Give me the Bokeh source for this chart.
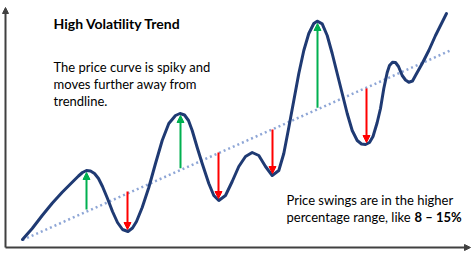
from bokeh.plotting import figure
from bokeh.models import Range1d, Arrow, NormalHead, Label
from bokeh.embed import file_html
from bokeh.resources import INLINE

# ---- data (time, price) ----
curve_x = [22, 31.7, 41.7, 51.7, 61.7, 71.7, 78, 82, 86, 90, 94, 98, 102, 107, 112, 117, 122, 127.5,
           132, 136, 141.7, 148.3, 155, 161.7, 168.3, 175, 179.5, 184, 188, 191.7, 196.7, 201.7, 208.3,
           213.3, 218.3, 225, 231.7, 238.3, 245, 251.7, 258.3, 265, 271.7, 278.3, 283.3, 288.3, 293.3,
           298.3, 303.3, 308.3, 313.3, 316.7, 321.7, 326.7, 331.7, 336.7, 341.7, 346.7, 351.7, 356.7,
           361, 365, 369, 372.5, 376.7, 380, 383.3, 386.7, 389, 392, 395, 398, 401.7, 405, 408.3, 412,
           415, 421.7, 428.3, 435, 440, 446]
curve_y = [14, 25, 38, 50.3, 61.3, 71.3, 77.5, 81, 83, 82.5, 80, 75, 67, 55, 42, 31, 24, 22,
           25.5, 32, 46, 66, 90, 113, 130, 138, 140, 138.5, 133, 123, 106, 90, 70,
           58, 53, 58, 72, 87, 97, 101, 98, 87, 78, 83, 100, 126, 153,
           180, 203, 220, 230, 232.3, 229.7, 218, 200, 180, 160, 140, 123, 113,
           109.5, 109, 111, 117, 131, 145, 165, 181, 188, 191.3, 191, 187, 178, 173.5, 171.3, 172.5,
           178, 190, 203, 218, 228, 240]

trend_x = [22, 451]
trend_y = [13.5, 203.5]

swing_x = [86, 127, 180, 218, 272, 317, 366]
swing_base = [44, 62, 85.3, 101, 124, 145.7, 165]
swing_tip = [81, 24, 138, 55, 80, 230, 111]
swing_dir = ["up", "down", "up", "down", "down", "up", "down"]

title_text = "High Volatility Trend"
note_lines = ["The price curve is spiky and", "moves further away from", "trendline."]
swing_lines = ["Price swings are in the higher", "percentage range, like "]
swing_bold = "8 \u2013 15%"

W, H = 474, 253
FONT = "Lato"
NAVY = "#1F3A73"
GREEN = "#00B050"
RED = "#FF0000"
AXIS = "#404040"

p = figure(width=W, height=H, output_backend="svg", toolbar_location=None,
           x_range=Range1d(0, W), y_range=Range1d(0, H),
           x_axis_location=None, y_axis_location=None, min_border=0)
p.grid.visible = False
p.outline_line_color = None
p.background_fill_color = "white"
p.border_fill_color = "white"

# axes drawn as arrows
p.add_layout(Arrow(x_start=5, y_start=6, x_end=5, y_end=246, line_color=AXIS, line_width=2,
                   end=NormalHead(size=6, fill_color=AXIS, line_color=AXIS)))
p.add_layout(Arrow(x_start=5, y_start=6, x_end=470, y_end=6, line_color=AXIS, line_width=2,
                   end=NormalHead(size=6, fill_color=AXIS, line_color=AXIS)))

# trendline
p.line(trend_x, trend_y, line_color="#8EA6D6", line_width=2.5, line_dash="2 3")

# swing arrows
for x, b, t, d in zip(swing_x, swing_base, swing_tip, swing_dir):
    c = GREEN if d == "up" else RED
    p.add_layout(Arrow(x_start=x, y_start=b, x_end=x, y_end=t, line_color=c, line_width=2,
                       end=NormalHead(size=7, fill_color=c, line_color=c)))

# price curve
p.line(curve_x, curve_y, line_color=NAVY, line_width=3, line_join="round", line_cap="round")

# texts
p.add_layout(Label(x=53, y=230.3, text=title_text, text_font=FONT, text_font_size="14px",
                   text_font_style="bold", text_color="black", text_baseline="alphabetic"))
for i, t in enumerate(note_lines):
    p.add_layout(Label(x=53, y=186.3 - 16.7 * i, text=t, text_font=FONT, text_font_size="13px",
                       text_color="black", text_baseline="alphabetic"))
for i, t in enumerate(swing_lines):
    p.add_layout(Label(x=286, y=53.7 - 17.4 * i, text=t, text_font=FONT, text_font_size="13px",
                       text_color="black", text_baseline="alphabetic"))
p.add_layout(Label(x=414, y=36.3, text=swing_bold, text_font=FONT, text_font_size="13px",
                   text_font_style="bold", text_color="black", text_baseline="alphabetic"))

open("out.html", "w").write(file_html(p, INLINE))
